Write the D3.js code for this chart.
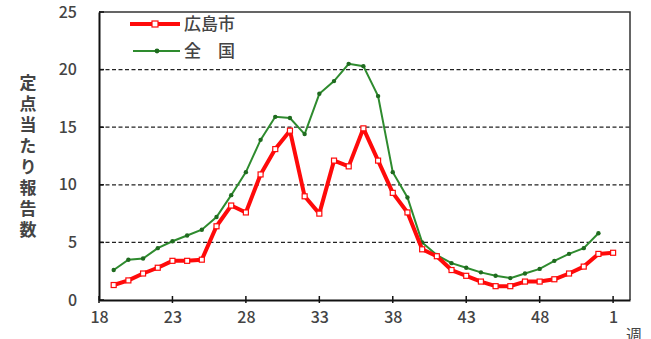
<!DOCTYPE html>
<html>
<head>
<meta charset="utf-8">
<script src="https://cdn.jsdelivr.net/npm/d3@7"></script>
<style>
  body { margin: 0; background: #fff; }
  text { font-family: "Noto Sans CJK JP", "Noto Sans", sans-serif; fill: #444; }
</style>
</head>
<body>
<div class="chart"></div>
<script>
var svgWidth = 651;
var svgHeight = 339;

var margin = { top: 12, right: 21, bottom: 39, left: 99 };
var chartWidth = svgWidth - margin.left - margin.right;
var chartHeight = svgHeight - margin.top - margin.bottom;

// weeks 19..52 then 1
var weeks = [19, 20, 21, 22, 23, 24, 25, 26, 27, 28, 29, 30, 31, 32, 33, 34, 35, 36,
  37, 38, 39, 40, 41, 42, 43, 44, 45, 46, 47, 48, 49, 50, 51, 52, 1];
var hiroshima = [1.3, 1.7, 2.3, 2.8, 3.4, 3.4, 3.5, 6.4, 8.2, 7.6, 10.9, 13.1, 14.7, 9.0,
  7.5, 12.1, 11.6, 14.9, 12.1, 9.3, 7.6, 4.4, 3.8, 2.6, 2.1, 1.6, 1.2, 1.2, 1.6, 1.6,
  1.8, 2.3, 2.9, 4.0, 4.1];
var national = [2.6, 3.5, 3.6, 4.5, 5.1, 5.6, 6.1, 7.2, 9.1, 11.1, 13.9, 15.9, 15.8, 14.4,
  17.9, 19.0, 20.5, 20.3, 17.7, 11.1, 8.9, 5.0, 3.9, 3.2, 2.8, 2.4, 2.1, 1.9, 2.3, 2.7,
  3.4, 4.0, 4.5, 5.8, null];
var xTickWeeks = [18, 23, 28, 33, 38, 43, 48, 1];
var yTicks = [0, 5, 10, 15, 20, 25];
var seriesNames = ["広島市", "全\u3000国"];

// week -> position index (18 = 0, 52 = 34, 1 = 35)
function weekIndex(w) { return w >= 18 ? w - 18 : w + 34; }

var svg = d3.select(".chart")
  .append("svg")
  .attr("width", svgWidth)
  .attr("height", svgHeight);

var chartGroup = svg.append("g")
  .attr("transform", `translate(${margin.left}, ${margin.top})`);

var xScale = d3.scaleLinear().domain([0, 36.15]).range([0, chartWidth]);
var yScale = d3.scaleLinear().domain([0, 25]).range([chartHeight, 0]);

// dashed grid lines
chartGroup.selectAll(".grid")
  .data(yTicks.filter(d => d > 0 && d < 25))
  .enter().append("line")
  .attr("x1", 0).attr("x2", chartWidth)
  .attr("y1", d => yScale(d)).attr("y2", d => yScale(d))
  .attr("stroke", "#222").attr("stroke-width", 1.3)
  .attr("stroke-dasharray", "4,2.5");

// frame top/right
chartGroup.append("path")
  .attr("d", `M0,0H${chartWidth}V${chartHeight}`)
  .attr("fill", "none").attr("stroke", "#333").attr("stroke-width", 1.5);

// y axis
var leftAxis = d3.axisLeft(yScale).tickValues(yTicks).tickSize(0).tickPadding(22);
var yAxis = chartGroup.append("g").call(leftAxis);
yAxis.select(".domain").attr("stroke", "#111").attr("stroke-width", 2);
yAxis.selectAll("text").attr("font-size", 16).attr("font-weight", 500).attr("fill", "#444");
chartGroup.selectAll(".ytick")
  .data(yTicks)
  .enter().append("line")
  .attr("x1", 0).attr("x2", 5)
  .attr("y1", d => yScale(d)).attr("y2", d => yScale(d))
  .attr("stroke", "#111").attr("stroke-width", 1.5);

// x axis
var bottomAxis = d3.axisBottom(xScale)
  .tickValues(xTickWeeks.map(weekIndex))
  .tickFormat((d, i) => xTickWeeks[i])
  .tickSize(0).tickPadding(12);
var xAxis = chartGroup.append("g")
  .attr("transform", `translate(0, ${chartHeight})`)
  .call(bottomAxis);
xAxis.select(".domain").attr("stroke", "#111").attr("stroke-width", 2);
xAxis.selectAll("text").attr("font-size", 16).attr("font-weight", 500).attr("fill", "#444");
chartGroup.selectAll(".xtick")
  .data(xTickWeeks)
  .enter().append("line")
  .attr("x1", d => xScale(weekIndex(d))).attr("x2", d => xScale(weekIndex(d)))
  .attr("y1", chartHeight - 4).attr("y2", chartHeight + 3)
  .attr("stroke", "#111").attr("stroke-width", 1.5);

// axis unit, partly cut off (as in the source image)
svg.append("text")
  .attr("x", 626).attr("y", 341)
  .attr("font-size", 16)
  .attr("fill", "#3a5a40")
  .text("週");

// y title, vertical writing
svg.append("text")
  .attr("x", 28)
  .attr("y", 74)
  .attr("font-size", 17)
  .attr("font-weight", 700)
  .style("writing-mode", "vertical-rl")
  .style("text-orientation", "upright")
  .style("letter-spacing", "4px")
  .text("定点当たり報告数");

// lines
var lineGen = d3.line()
  .defined(d => d.v != null)
  .x(d => xScale(weekIndex(d.w)))
  .y(d => yScale(d.v));

var natData = weeks.map((w, i) => ({ w: w, v: national[i] }));
var hirData = weeks.map((w, i) => ({ w: w, v: hiroshima[i] }));

chartGroup.append("path")
  .datum(natData)
  .attr("d", lineGen)
  .attr("fill", "none").attr("stroke", "#2e8b2e").attr("stroke-width", 2);

chartGroup.selectAll(".natDot")
  .data(natData.filter(d => d.v != null))
  .enter().append("circle")
  .attr("cx", d => xScale(weekIndex(d.w)))
  .attr("cy", d => yScale(d.v))
  .attr("r", 2.2)
  .attr("fill", "#1f6b1f");

chartGroup.append("path")
  .datum(hirData)
  .attr("d", lineGen)
  .attr("fill", "none").attr("stroke", "#ff0a0a").attr("stroke-width", 4)
  .attr("stroke-linejoin", "round");

chartGroup.selectAll(".hirDot")
  .data(hirData)
  .enter().append("rect")
  .attr("x", d => xScale(weekIndex(d.w)) - 2.5)
  .attr("y", d => yScale(d.v) - 2.5)
  .attr("width", 5).attr("height", 5)
  .attr("fill", "#fff").attr("stroke", "#ff0a0a").attr("stroke-width", 1.2);

// legend
var legend = svg.append("g");
legend.append("line")
  .attr("x1", 130).attr("x2", 180).attr("y1", 24).attr("y2", 24)
  .attr("stroke", "#ff0a0a").attr("stroke-width", 4);
legend.append("rect")
  .attr("x", 152).attr("y", 21).attr("width", 6).attr("height", 6)
  .attr("fill", "#fff").attr("stroke", "#ff0a0a").attr("stroke-width", 1.2);
legend.append("line")
  .attr("x1", 133).attr("x2", 180).attr("y1", 51).attr("y2", 51)
  .attr("stroke", "#2e8b2e").attr("stroke-width", 2);
legend.append("circle")
  .attr("cx", 157).attr("cy", 51).attr("r", 2.4).attr("fill", "#1f6b1f");
legend.selectAll(".lg")
  .data(seriesNames)
  .enter().append("text")
  .attr("x", 184)
  .attr("y", (d, i) => 30 + i * 27)
  .attr("font-size", 17)
  .attr("font-weight", 500)
  .text(d => d);
</script>
</body>
</html>
